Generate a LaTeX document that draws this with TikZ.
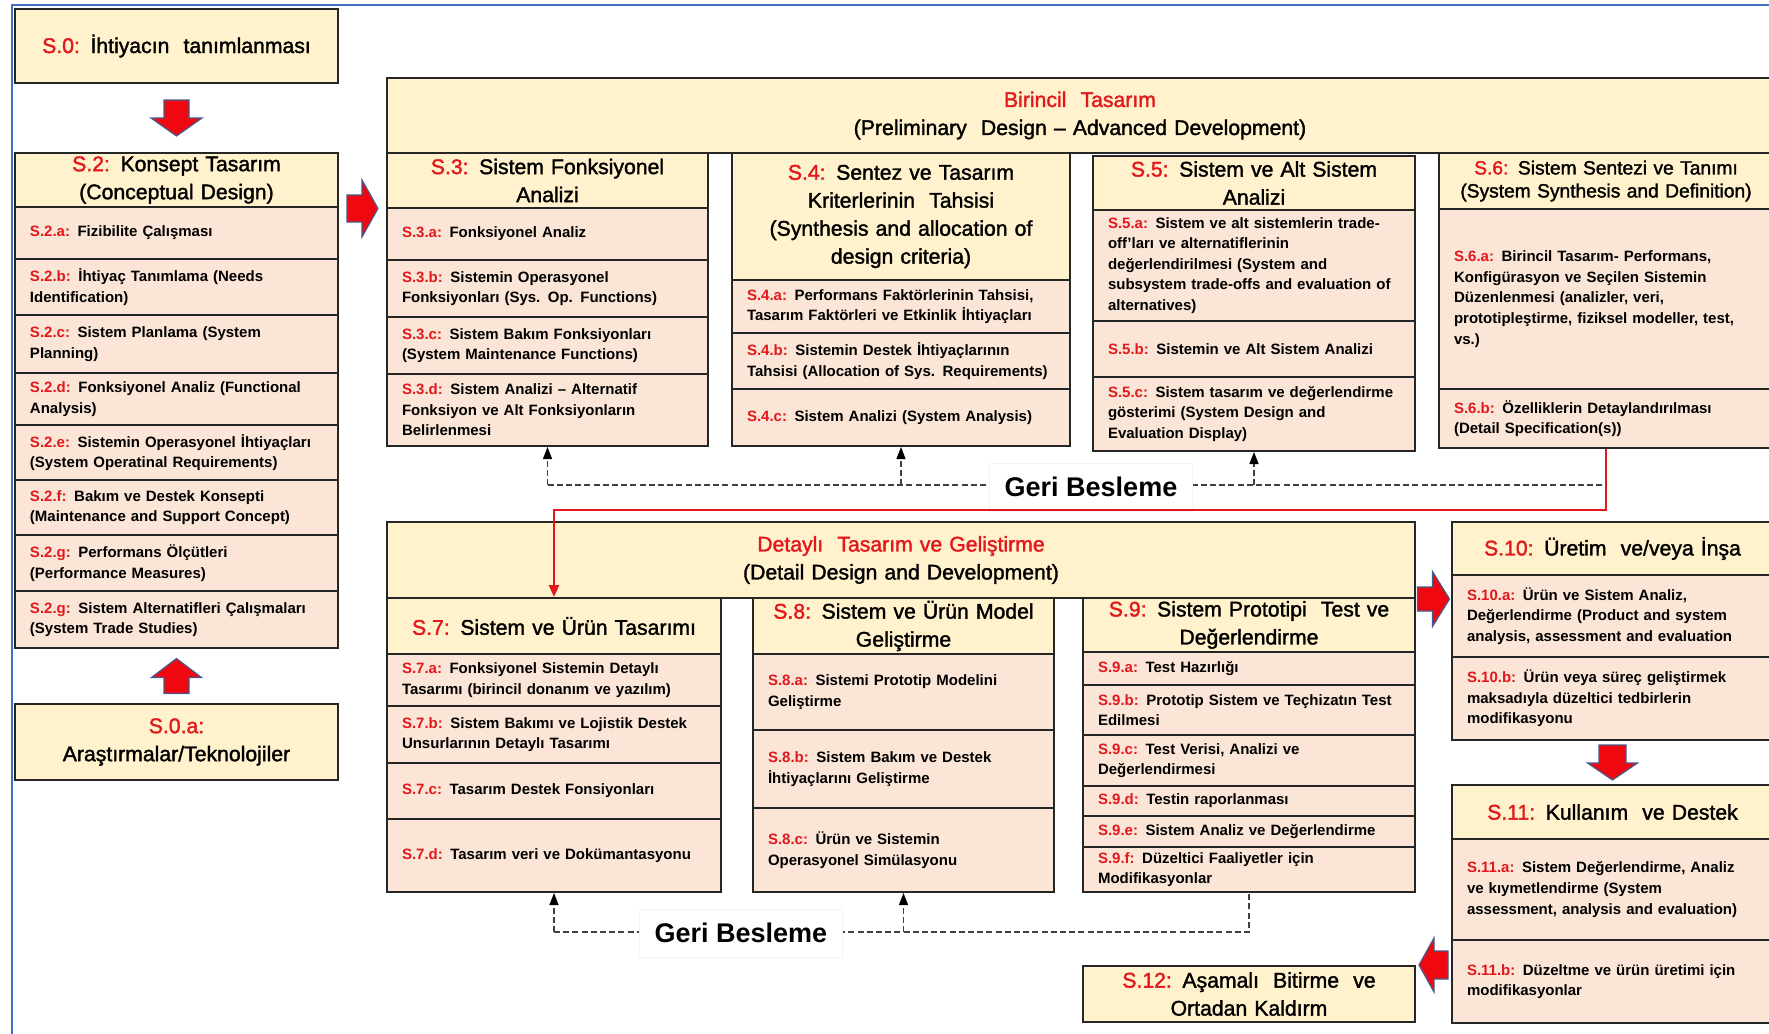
\documentclass[tikz,border=0pt]{standalone}
\usepackage{fontspec}
\setmainfont{Liberation Sans}
\newfontfamily\hdfam{Liberation Sans}[FakeBold=1.6]
\usetikzlibrary{arrows.meta,calc}
\definecolor{hdrfill}{RGB}{255,242,204}
\definecolor{itmfill}{RGB}{251,229,214}
\definecolor{tred}{RGB}{226,24,28}
\definecolor{frameblue}{RGB}{68,114,196}
\definecolor{arrowedge}{RGB}{70,90,140}
\definecolor{arrowred}{RGB}{240,8,16}
\newcommand\rlab[1]{\textcolor{tred}{#1}}
\newcommand\hdfont{\hdfam\fontsize{10.6}{14}\selectfont}
\newcommand\smallhdfont{\hdfam\fontsize{9.6}{11.5}\selectfont}
\newcommand\cellitemfont{\bfseries\fontsize{7.5}{10.3}\selectfont}
% a cell placed by its corners (x1,y1)-(x2,y2), in pixel units
\newcommand\mkcell[7]{%
  \pgfmathsetmacro\cw{(#4-#2)*0.5}%
  \pgfmathsetmacro\ch{(#5-#3)*0.5}%
  \pgfmathsetmacro\tw{(#4-#2)*0.5-15}%
  \node[#6, anchor=north west, minimum width=\cw pt, minimum height=\ch pt,
        text width=\tw pt] (#1) at (#2,#3) {#7};}
% block arrow: centre, rotation, length, head length, shaft half width, head half width
\newcommand\blkarrow[6]{%
  \draw[blk, shift={(#1)}, rotate=#2]
    (-#3/2,-#5) -- (#3/2-#4,-#5) -- (#3/2-#4,-#6) -- (#3/2,0)
    -- (#3/2-#4,#6) -- (#3/2-#4,#5) -- (-#3/2,#5) -- cycle;}
\begin{document}
\begin{tikzpicture}[x=0.5pt,y=-0.5pt,
  hd/.style={draw=black!85, fill=hdrfill, line width=1pt, align=center,
             inner sep=0pt, font=\hdfont},
  itm/.style={draw=black!85, fill=itmfill, line width=1pt, align=left,
              inner sep=0pt, font=\cellitemfont},
  blk/.style={fill=arrowred, draw=arrowedge, line width=0.6pt},
  fb/.style={draw=black!75, dash pattern=on 3pt off 1.6pt, line width=0.6pt},
  fbarr/.style={fb, -{Triangle[length=6pt,width=4.5pt,black]}},
  fblabel/.style={fill=white, draw=black!4, line width=0.4pt,
                  minimum width=101.5pt, minimum height=24pt, inner sep=0pt,
                  font=\bfseries\fontsize{13.5}{16}\selectfont},
  redln/.style={draw=tred, line width=1.2pt, -{Triangle[length=6pt,width=5pt]}}]
\useasboundingbox (0,0) rectangle (1769,1034);
\clip (0,0) rectangle (1769,1034);
\fill[white] (0,0) rectangle (1769,1034);

% page frame
\draw[frameblue, line width=1pt] (12,1034) -- (12,5) -- (1769,5);

% left column
\mkcell{s0}{14}{8}{337}{82}{hd}{\rlab{S.0:} İhtiyacın\ \ tanımlanması}
\mkcell{s2h}{14}{152}{337}{206}{hd}{\rlab{S.2:} Konsept Tasarım\\(Conceptual Design)}
\mkcell{s2a}{14}{206}{337}{258}{itm}{\rlab{S.2.a:} Fizibilite Çalışması}
\mkcell{s2b}{14}{258}{337}{314}{itm}{\rlab{S.2.b:} İhtiyaç Tanımlama (Needs\\Identification)}
\mkcell{s2c}{14}{314}{337}{372}{itm}{\rlab{S.2.c:} Sistem Planlama (System\\Planning)}
\mkcell{s2d}{14}{372}{337}{424}{itm}{\rlab{S.2.d:} Fonksiyonel Analiz (Functional\\Analysis)}
\mkcell{s2e}{14}{424}{337}{479}{itm}{\rlab{S.2.e:} Sistemin Operasyonel İhtiyaçları\\(System Operatinal Requirements)}
\mkcell{s2f}{14}{479}{337}{534}{itm}{\rlab{S.2.f:} Bakım ve Destek Konsepti\\(Maintenance and Support Concept)}
\mkcell{s2g}{14}{534}{337}{590}{itm}{\rlab{S.2.g:} Performans Ölçütleri\\(Performance Measures)}
\mkcell{s2gg}{14}{590}{337}{647}{itm}{\rlab{S.2.g:} Sistem Alternatifleri Çalışmaları\\(System Trade Studies)}
\mkcell{s0a}{14}{703}{337}{779}{hd}{\rlab{S.0.a:}\\Araştırmalar/Teknolojiler}

% preliminary design
\mkcell{bir}{386}{77}{1772}{152}{hd}{\rlab{Birincil\ \ Tasarım}\\(Preliminary\ \ Design – Advanced Development)}
\mkcell{s3h}{386}{152}{707}{207}{hd}{\rlab{S.3:} Sistem Fonksiyonel\\Analizi}
\mkcell{s3a}{386}{207}{707}{259}{itm}{\rlab{S.3.a:} Fonksiyonel Analiz}
\mkcell{s3b}{386}{259}{707}{316}{itm}{\rlab{S.3.b:} Sistemin Operasyonel\\Fonksiyonları (Sys. Op. Functions)}
\mkcell{s3c}{386}{316}{707}{373}{itm}{\rlab{S.3.c:} Sistem Bakım Fonksiyonları\\(System Maintenance Functions)}
\mkcell{s3d}{386}{373}{707}{445}{itm}{\rlab{S.3.d:} Sistem Analizi – Alternatif\\Fonksiyon ve Alt Fonksiyonların\\Belirlenmesi}

\mkcell{s4h}{731}{152}{1069}{279}{hd}{\rlab{S.4:} Sentez ve Tasarım\\Kriterlerinin\ \ Tahsisi\\(Synthesis and allocation of\\design criteria)}
\mkcell{s4a}{731}{279}{1069}{332}{itm}{\rlab{S.4.a:} Performans Faktörlerinin Tahsisi,\\Tasarım Faktörleri ve Etkinlik İhtiyaçları}
\mkcell{s4b}{731}{332}{1069}{388}{itm}{\rlab{S.4.b:} Sistemin Destek İhtiyaçlarının\\Tahsisi (Allocation of Sys. Requirements)}
\mkcell{s4c}{731}{388}{1069}{445}{itm}{\rlab{S.4.c:} Sistem Analizi (System Analysis)}

\mkcell{s5h}{1092}{155}{1414}{209}{hd}{\rlab{S.5:} Sistem ve Alt Sistem\\Analizi}
\mkcell{s5a}{1092}{209}{1414}{320}{itm}{\rlab{S.5.a:} Sistem ve alt sistemlerin trade-\\off'ları ve alternatiflerinin\\değerlendirilmesi (System and\\subsystem trade-offs and evaluation of\\alternatives)}
\mkcell{s5b}{1092}{320}{1414}{376}{itm}{\rlab{S.5.b:} Sistemin ve Alt Sistem Analizi}
\mkcell{s5c}{1092}{376}{1414}{450}{itm}{\rlab{S.5.c:} Sistem tasarım ve değerlendirme\\gösterimi (System Design and\\Evaluation Display)}

\mkcell{s6h}{1438}{152}{1772}{208}{hd,font=\smallhdfont}{\rlab{S.6:} Sistem Sentezi ve Tanımı\\(System Synthesis and Definition)}
\mkcell{s6a}{1438}{208}{1772}{388}{itm}{\rlab{S.6.a:} Birincil Tasarım- Performans,\\Konfigürasyon ve Seçilen Sistemin\\Düzenlenmesi (analizler, veri,\\prototipleştirme, fiziksel modeller, test,\\vs.)}
\mkcell{s6b}{1438}{388}{1772}{447}{itm}{\rlab{S.6.b:} Özelliklerin Detaylandırılması\\(Detail Specification(s))}

% detail design
\mkcell{det}{386}{521}{1414}{597}{hd}{\rlab{Detaylı\ \ Tasarım ve Geliştirme}\\(Detail Design and Development)}
\mkcell{s7h}{386}{597}{720}{653}{hd}{\rlab{S.7:} Sistem ve Ürün Tasarımı}
\mkcell{s7a}{386}{653}{720}{705}{itm}{\rlab{S.7.a:} Fonksiyonel Sistemin Detaylı\\Tasarımı (birincil donanım ve yazılım)}
\mkcell{s7b}{386}{705}{720}{762}{itm}{\rlab{S.7.b:} Sistem Bakımı ve Lojistik Destek\\Unsurlarının Detaylı Tasarımı}
\mkcell{s7c}{386}{762}{720}{818}{itm}{\rlab{S.7.c:} Tasarım Destek Fonsiyonları}
\mkcell{s7d}{386}{818}{720}{891}{itm}{\rlab{S.7.d:} Tasarım veri ve Dokümantasyonu}

\mkcell{s8h}{752}{597}{1053}{653}{hd}{\rlab{S.8:} Sistem ve Ürün Model\\Geliştirme}
\mkcell{s8a}{752}{653}{1053}{729}{itm}{\rlab{S.8.a:} Sistemi Prototip Modelini\\Geliştirme}
\mkcell{s8b}{752}{729}{1053}{807}{itm}{\rlab{S.8.b:} Sistem Bakım ve Destek\\İhtiyaçlarını Geliştirme}
\mkcell{s8c}{752}{807}{1053}{891}{itm}{\rlab{S.8.c:} Ürün ve Sistemin\\Operasyonel Simülasyonu}

\mkcell{s9h}{1082}{597}{1414}{651}{hd}{\rlab{S.9:} Sistem Prototipi\ \ Test ve\\Değerlendirme}
\mkcell{s9a}{1082}{651}{1414}{684}{itm}{\rlab{S.9.a:} Test Hazırlığı}
\mkcell{s9b}{1082}{684}{1414}{734}{itm}{\rlab{S.9.b:} Prototip Sistem ve Teçhizatın Test\\Edilmesi}
\mkcell{s9c}{1082}{734}{1414}{785}{itm}{\rlab{S.9.c:} Test Verisi, Analizi ve\\Değerlendirmesi}
\mkcell{s9d}{1082}{785}{1414}{815}{itm}{\rlab{S.9.d:} Testin raporlanması}
\mkcell{s9e}{1082}{815}{1414}{846}{itm}{\rlab{S.9.e:} Sistem Analiz ve Değerlendirme}
\mkcell{s9f}{1082}{846}{1414}{891}{itm}{\rlab{S.9.f:} Düzeltici Faaliyetler için\\Modifikasyonlar}

% production, use, retirement
\mkcell{s10h}{1451}{521}{1772}{574}{hd}{\rlab{S.10:} Üretim\ \ ve/veya İnşa}
\mkcell{s10a}{1451}{574}{1772}{656}{itm}{\rlab{S.10.a:} Ürün ve Sistem Analiz,\\Değerlendirme (Product and system\\analysis, assessment and evaluation}
\mkcell{s10b}{1451}{656}{1772}{739}{itm}{\rlab{S.10.b:} Ürün veya süreç geliştirmek\\maksadıyla düzeltici tedbirlerin\\modifikasyonu}
\mkcell{s11h}{1451}{784}{1772}{838}{hd}{\rlab{S.11:} Kullanım\ \ ve Destek}
\mkcell{s11a}{1451}{838}{1772}{939}{itm}{\rlab{S.11.a:} Sistem Değerlendirme, Analiz\\ve kıymetlendirme (System\\assessment, analysis and evaluation)}
\mkcell{s11b}{1451}{939}{1772}{1022}{itm}{\rlab{S.11.b:} Düzeltme ve ürün üretimi için\\modifikasyonlar}
\mkcell{s12}{1082}{965}{1414}{1021}{hd}{\rlab{S.12:} Aşamalı\ \ Bitirme\ \ ve\\Ortadan Kaldırm}

% feedback loop, preliminary design
\coordinate (fbT) at (0,485);
\draw[fb] (s3d.south |- fbT) -- (s6b.south |- fbT);
\draw[fbarr] (s3d.south |- fbT) -- (s3d.south);
\draw[fbarr] (s4c.south |- fbT) -- (s4c.south);
\draw[fbarr] (s5c.south |- fbT) -- (s5c.south);
\node[fblabel] (gb1) at (1091,487) {Geri Besleme};

% feedback loop, detail design
\coordinate (fbB) at (0,932);
\draw[fb] (s7d.south |- fbB) -- (s9f.south |- fbB) -- (s9f.south);
\draw[fbarr] (s7d.south |- fbB) -- (s7d.south);
\draw[fbarr] (s8c.south |- fbB) -- (s8c.south);
\node[fblabel] (gb2) at (741,933) {Geri Besleme};

% specification hand-over to detail design
\coordinate (rturn) at (0,510);
\draw[redln] (s6b.south) |- (s7h.north |- rturn) -- (s7h.north);

% block arrows between phases
\coordinate (a1) at ($(s0.south)!0.5!(s2h.north)$);
\coordinate (a2) at ($(s2gg.south)!0.5!(s0a.north)$);
\coordinate (a3) at ($(s2h.south east)!0.5!(s3h.south west)$);
\coordinate (a4) at ($(det.south east)!0.5!(s10a.west |- det.south east)$);
\coordinate (a5) at ($(s10b.south)!0.5!(s11h.north)$);
\coordinate (a6) at ($(s12.north east)!0.5!(s11b.west |- s12.north east)$);
\blkarrow{a1}{-90}{36}{18}{12.5}{25.5}
\blkarrow{a2}{90}{35}{19}{12.5}{25}
\blkarrow{a3}{0}{31}{16}{13.5}{28.5}
\blkarrow{a4}{0}{32}{17}{12}{27.5}
\blkarrow{a5}{-90}{35}{17}{13.5}{25}
\blkarrow{a6}{180}{29}{15}{14}{27}
\end{tikzpicture}
\end{document}
